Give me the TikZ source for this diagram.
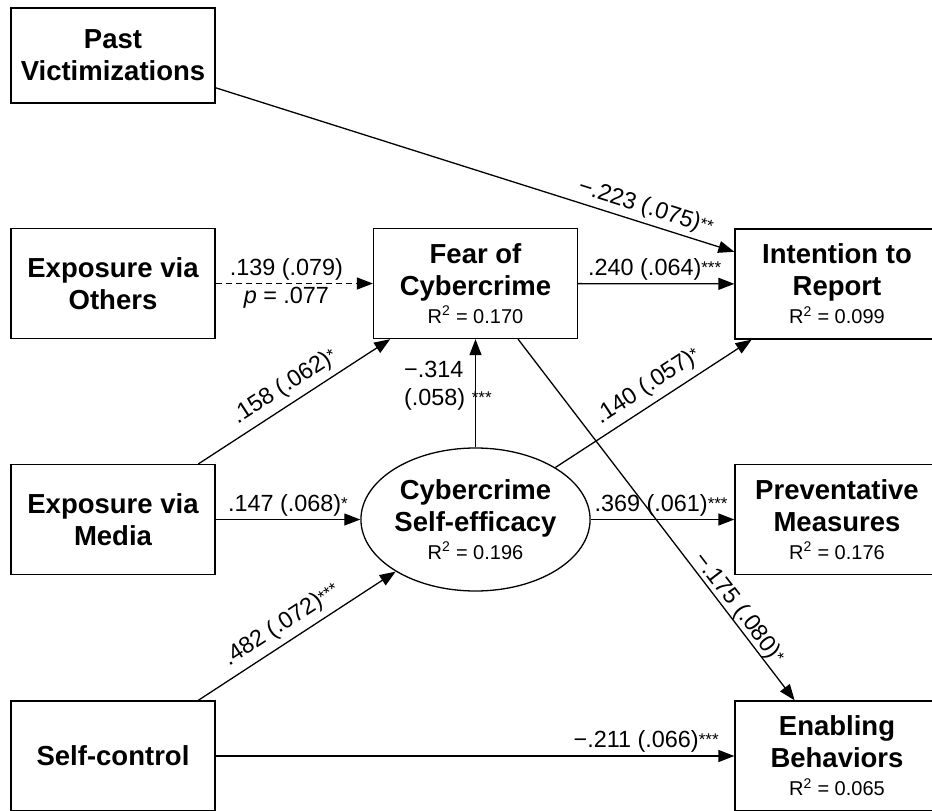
\documentclass[tikz,border=0pt]{standalone}
\usepackage{fontspec}
\setmainfont{Liberation Sans}
\usetikzlibrary{arrows.meta,shapes.geometric}
\newcommand\ttl{\fontsize{27.5}{32}\selectfont\bfseries}
\newcommand\rsq[1]{{\fontsize{20}{22}\selectfont\mdseries R\textsuperscript{2} = #1}}
\newcommand\lbl{\fontsize{23.4}{28}\selectfont}
\newcommand\st[1]{\raisebox{2pt}{\fontsize{17}{17}\selectfont #1}}
\begin{document}
\begin{tikzpicture}[x=1pt,y=-1pt,
  box/.style={draw,line width=1.3pt,minimum width=204pt,minimum height=110pt,inner sep=0pt,align=center,font=\ttl},
  latent/.style={draw,ellipse,line width=1.3pt,minimum width=204pt,minimum height=143pt,inner sep=0pt,align=center,font=\ttl},
  conn/.style={line width=1.3pt,-{Triangle[length=16pt,width=12pt]}},
  lab/.style={font=\lbl,inner sep=3pt},
  slab/.style={lab,sloped,above,inner sep=6pt}]
\useasboundingbox (0,0) rectangle (932,811);
\node[box,minimum height=95pt] (past) at (113,55.5) {Past\\Victimizations};
\node[box] (others) at (113,283.5) {Exposure via\\Others};
\node[box] (fear) at (475.5,283.5) {Fear of\\Cybercrime\\[-4pt]\rsq{0.170}};
\node[box] (intent) at (837,284) {Intention to\\Report\\[-4pt]\rsq{0.099}};
\node[box] (media) at (113,519.5) {Exposure via\\Media};
\node[latent] (se) at (475.5,519.5) {Cybercrime\\Self-efficacy\\[-4pt]\rsq{0.196}};
\node[box] (prev) at (837,519.5) {Preventative\\Measures\\[-4pt]\rsq{0.176}};
\node[box] (sc) at (113,756) {Self-control};
\node[box] (enab) at (837,756) {Enabling\\Behaviors\\[-4pt]\rsq{0.065}};

\draw[conn] (past) -- node[slab,pos=0.82,inner sep=4pt]{−.223 (.075)\st{**}} (intent);
\draw[conn,dash pattern=on 6pt off 4pt] (others) -- node[lab,above,pos=0.45]{.139 (.079)} node[lab,below,pos=0.45]{\textit{p} = .077} (fear);
\draw[conn] (fear) -- node[lab,above,pos=0.49]{.240 (.064)\st{***}} (intent);
\draw[conn] (media) -- node[slab,pos=0.5]{.158 (.062)\st{*}} (fear);
\draw[conn] (se) -- node[lab,align=left,anchor=west,pos=0.5,xshift=-75pt,yshift=7.5pt]{−.314\\(.058) \st{***}} (fear);
\draw[conn] (se) -- node[slab,pos=0.52]{.140 (.057)\st{*}} (intent);
\draw[conn] (media) -- node[lab,above,pos=0.5]{.147 (.068)\st{*}} (se);
\draw[conn] (se) -- node[lab,above,pos=0.49]{.369 (.061)\st{***}} (prev);
\draw[conn] (sc) -- node[slab,pos=0.47]{.482 (.072)\st{***}} (se);
\draw[conn] (fear) -- node[lab,sloped,above,pos=0.765,inner sep=0pt]{−.175 (.080)\st{*}} (enab);
\draw[conn] (sc) -- node[lab,above,pos=0.83]{−.211 (.066)\st{***}} (enab);
\end{tikzpicture}
\end{document}
